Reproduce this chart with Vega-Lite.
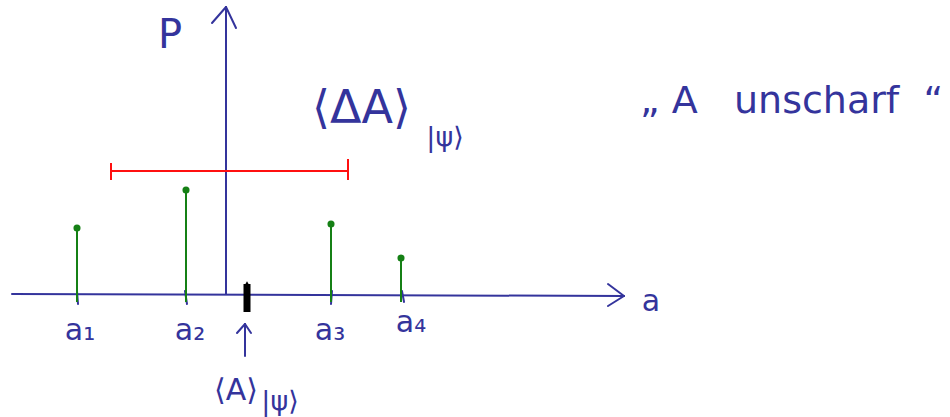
{
  "$schema": "https://vega.github.io/schema/vega-lite/v6.json",
  "width": 950,
  "height": 417,
  "padding": 0,
  "autosize": {"type": "none"},
  "background": "white",
  "config": {"view": {"stroke": null}},
  "datasets": {
    "axes": [
      {"x": -2.14, "y": 0, "x2": 3.98, "y2": -0.02},
      {"x": 0, "y": 0, "x2": 0, "y2": 2.87},
      {"x": 3.82, "y": 0.10, "x2": 3.98, "y2": -0.02},
      {"x": 3.82, "y": -0.12, "x2": 3.98, "y2": -0.02},
      {"x": -0.14, "y": 2.71, "x2": 0, "y2": 2.87},
      {"x": 0.10, "y": 2.66, "x2": 0, "y2": 2.87},
      {"x": -1.49, "y": 0.03, "x2": -1.48, "y2": -0.10},
      {"x": -0.41, "y": 0.03, "x2": -0.39, "y2": -0.10},
      {"x": 1.06, "y": 0.03, "x2": 1.05, "y2": -0.10},
      {"x": 1.76, "y": 0.03, "x2": 1.78, "y2": -0.08},
      {"x": 0.19, "y": -0.62, "x2": 0.19, "y2": -0.30},
      {"x": 0.11, "y": -0.39, "x2": 0.19, "y2": -0.30},
      {"x": 0.25, "y": -0.39, "x2": 0.19, "y2": -0.30}
    ],
    "stems": [
      {"label": "a1", "a": -1.49, "P": 0.66},
      {"label": "a2", "a": -0.40, "P": 1.04},
      {"label": "a3", "a": 1.05, "P": 0.70},
      {"label": "a4", "a": 1.75, "P": 0.36}
    ],
    "spread": [{"lo": -1.16, "hi": 1.23, "y": 1.23}],
    "caps": [
      {"x": -1.15, "y": 1.31, "y2": 1.14},
      {"x": 1.22, "y": 1.35, "y2": 1.14}
    ],
    "mean": [{"A": 0.21, "top": 0.10, "bottom": -0.18}],
    "pText": [
      {"t": "P", "x": -0.56, "y": 2.46}
    ],
    "bigText": [
      {"t": "⟨ΔA⟩", "x": 0.86, "y": 1.71}
    ],
    "midText": [
      {"t": "a₁", "x": -1.46, "y": -0.46},
      {"t": "a₂", "x": -0.36, "y": -0.46},
      {"t": "a₃", "x": 1.04, "y": -0.46},
      {"t": "a₄", "x": 1.85, "y": -0.38},
      {"t": "⟨A⟩", "x": 0.1, "y": -1.06},
      {"t": "a", "x": 4.25, "y": -0.17}
    ],
    "subText": [
      {"t": "|ψ⟩", "x": 2.19, "y": 1.48},
      {"t": "|ψ⟩", "x": 0.54, "y": -1.16}
    ],
    "quote": [
      {"t": "„ A\u00a0\u00a0 unscharf\u00a0 “", "x": 4.14, "y": 1.81}
    ]
  },
  "layer": [
    {
      "data": {"name": "axes"},
      "mark": {"type": "rule", "color": "#34349c", "strokeWidth": 2, "strokeCap": "round"},
      "encoding": {
        "x": {"field": "x", "type": "quantitative", "scale": {"domain": [-2.26, 7.24], "nice": false, "zero": false}, "axis": null},
        "y": {"field": "y", "type": "quantitative", "scale": {"domain": [-1.23, 2.94], "nice": false, "zero": false}, "axis": null},
        "x2": {"field": "x2"},
        "y2": {"field": "y2"}
      }
    },
    {
      "data": {"name": "stems"},
      "mark": {"type": "rule", "color": "#158015", "strokeWidth": 2},
      "encoding": {
        "x": {"field": "a", "type": "quantitative"},
        "y": {"field": "P", "type": "quantitative"},
        "y2": {"datum": -0.08}
      }
    },
    {
      "data": {"name": "stems"},
      "mark": {"type": "point", "filled": true, "color": "#158015", "size": 50, "opacity": 1},
      "encoding": {
        "x": {"field": "a", "type": "quantitative"},
        "y": {"field": "P", "type": "quantitative"}
      }
    },
    {
      "data": {"name": "spread"},
      "mark": {"type": "rule", "color": "#ff1010", "strokeWidth": 2},
      "encoding": {
        "x": {"field": "lo", "type": "quantitative"},
        "x2": {"field": "hi"},
        "y": {"field": "y", "type": "quantitative"}
      }
    },
    {
      "data": {"name": "caps"},
      "mark": {"type": "rule", "color": "#ff1010", "strokeWidth": 2},
      "encoding": {
        "x": {"field": "x", "type": "quantitative"},
        "y": {"field": "y", "type": "quantitative"},
        "y2": {"field": "y2"}
      }
    },
    {
      "data": {"name": "mean"},
      "mark": {"type": "rule", "color": "black", "strokeWidth": 7, "strokeCap": "butt"},
      "encoding": {
        "x": {"field": "A", "type": "quantitative"},
        "y": {"field": "top", "type": "quantitative"},
        "y2": {"field": "bottom"}
      }
    },
    {
      "data": {"name": "mean"},
      "mark": {"type": "point", "shape": "triangle-up", "filled": true, "color": "black", "size": 40, "opacity": 1},
      "encoding": {
        "x": {"field": "A", "type": "quantitative"},
        "y": {"field": "top", "type": "quantitative"}
      }
    },
    {
      "data": {"name": "pText"},
      "mark": {"type": "text", "font": "DejaVu Sans", "fontSize": 40, "align": "center", "baseline": "alphabetic", "color": "#34349c"},
      "encoding": {
        "x": {"field": "x", "type": "quantitative"},
        "y": {"field": "y", "type": "quantitative"},
        "text": {"field": "t"}
      }
    },
    {
      "data": {"name": "bigText"},
      "mark": {"type": "text", "font": "DejaVu Sans", "fontSize": 46, "align": "left", "baseline": "alphabetic", "color": "#34349c"},
      "encoding": {
        "x": {"field": "x", "type": "quantitative"},
        "y": {"field": "y", "type": "quantitative"},
        "text": {"field": "t"}
      }
    },
    {
      "data": {"name": "midText"},
      "mark": {"type": "text", "font": "DejaVu Sans", "fontSize": 30, "align": "center", "baseline": "alphabetic", "color": "#34349c"},
      "encoding": {
        "x": {"field": "x", "type": "quantitative"},
        "y": {"field": "y", "type": "quantitative"},
        "text": {"field": "t"}
      }
    },
    {
      "data": {"name": "subText"},
      "mark": {"type": "text", "font": "DejaVu Sans", "fontSize": 27, "align": "center", "baseline": "alphabetic", "color": "#34349c"},
      "encoding": {
        "x": {"field": "x", "type": "quantitative"},
        "y": {"field": "y", "type": "quantitative"},
        "text": {"field": "t"}
      }
    },
    {
      "data": {"name": "quote"},
      "mark": {"type": "text", "font": "DejaVu Sans", "fontSize": 38, "align": "left", "baseline": "alphabetic", "color": "#34349c"},
      "encoding": {
        "x": {"field": "x", "type": "quantitative"},
        "y": {"field": "y", "type": "quantitative"},
        "text": {"field": "t"}
      }
    }
  ]
}
